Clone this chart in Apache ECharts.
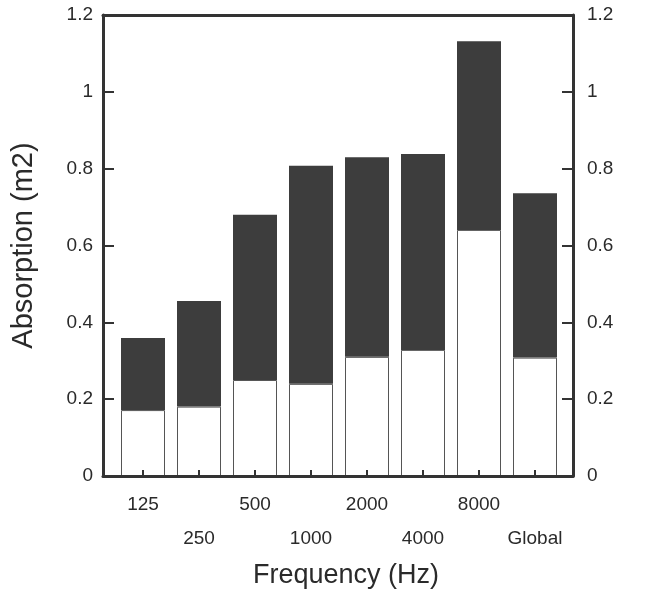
<!DOCTYPE html>
<html>
<head>
<meta charset="utf-8">
<script src="https://cdn.jsdelivr.net/npm/echarts@6/dist/echarts.min.js"></script>
<style>
  html, body { margin: 0; padding: 0; background: #fff; }
  #chart { width: 649px; height: 594px; }
</style>
</head>
<body>
<div id="chart"></div>
<script>
var categories = ['125', '250', '500', '1000', '2000', '4000', '8000', 'Global'];
// lower (white) part and upper (dark) part of each bar, m2
var whitePart = [0.176, 0.185, 0.254, 0.244, 0.314, 0.332, 0.643, 0.312];
var darkPart  = [0.187, 0.274, 0.428, 0.565, 0.517, 0.508, 0.489, 0.426];

var font = 'Liberation Sans, Arial, Helvetica, sans-serif';
var ink = '#2a2a2a';

var chart = echarts.init(document.getElementById('chart'));

var frameLine = { show: true, onZero: false, lineStyle: { color: '#333', width: 3 } };
var tickFmt = function (v) { return String(+v.toFixed(1)); };

var option = {
    backgroundColor: '#fff',
    animation: false,
    grid: [
        // frame
        { left: 103, right: 76, top: 15, bottom: 116 },
        // bars
        { left: 115, right: 86, top: 15, bottom: 116 }
    ],
    xAxis: [
        {
            gridIndex: 0, type: 'value', min: 0, max: 1, position: 'bottom', z: 5,
            axisLine: frameLine, axisTick: { show: false }, axisLabel: { show: false },
            splitLine: { show: false },
            name: 'Frequency (Hz)', nameLocation: 'middle', nameGap: 86,
            nameTextStyle: { fontFamily: font, fontSize: 27, color: ink, padding: [0, 0, 0, 16] }
        },
        {
            gridIndex: 0, type: 'value', min: 0, max: 1, position: 'top', z: 5,
            axisLine: frameLine, axisTick: { show: false }, axisLabel: { show: false },
            splitLine: { show: false }
        },
        {
            gridIndex: 1, type: 'category', data: categories, z: 6,
            axisLine: { show: false, onZero: false },
            axisTick: { show: true, inside: true, alignWithLabel: true, length: 8,
                        lineStyle: { color: '#333', width: 2 } },
            axisLabel: {
                fontFamily: font, fontSize: 19, color: ink, margin: 10, interval: 0,
                lineHeight: 34,
                formatter: function (v, i) { return i % 2 ? '\n' + v : v; }
            }
        }
    ],
    yAxis: [
        {
            gridIndex: 0, type: 'value', min: 0, max: 1.2, interval: 0.2, position: 'left', z: 5,
            axisLine: frameLine,
            axisTick: { show: true, inside: true, length: 11, lineStyle: { color: '#333', width: 2 } },
            axisLabel: { fontFamily: font, fontSize: 19, color: ink, margin: 10, formatter: tickFmt },
            splitLine: { show: false },
            name: 'Absorption (m2)', nameLocation: 'middle', nameGap: 65,
            nameTextStyle: { fontFamily: font, fontSize: 29, color: ink }
        },
        {
            gridIndex: 0, type: 'value', min: 0, max: 1.2, interval: 0.2, position: 'right', z: 5,
            axisLine: frameLine,
            axisTick: { show: true, inside: true, length: 11, lineStyle: { color: '#333', width: 2 } },
            axisLabel: { fontFamily: font, fontSize: 19, color: ink, margin: 14, formatter: tickFmt },
            splitLine: { show: false }
        },
        {
            gridIndex: 1, type: 'value', min: 0, max: 1.2, show: false
        }
    ],
    series: [
        {
            name: 'white', type: 'bar', stack: 'a', xAxisIndex: 2, yAxisIndex: 2,
            barWidth: 44, data: whitePart,
            itemStyle: { color: '#fff', borderColor: '#555', borderWidth: 1 }
        },
        {
            name: 'dark', type: 'bar', stack: 'a', xAxisIndex: 2, yAxisIndex: 2,
            barWidth: 44, data: darkPart,
            itemStyle: { color: '#3d3d3d', borderWidth: 0 }
        }
    ]
};

chart.setOption(option);
</script>
</body>
</html>
